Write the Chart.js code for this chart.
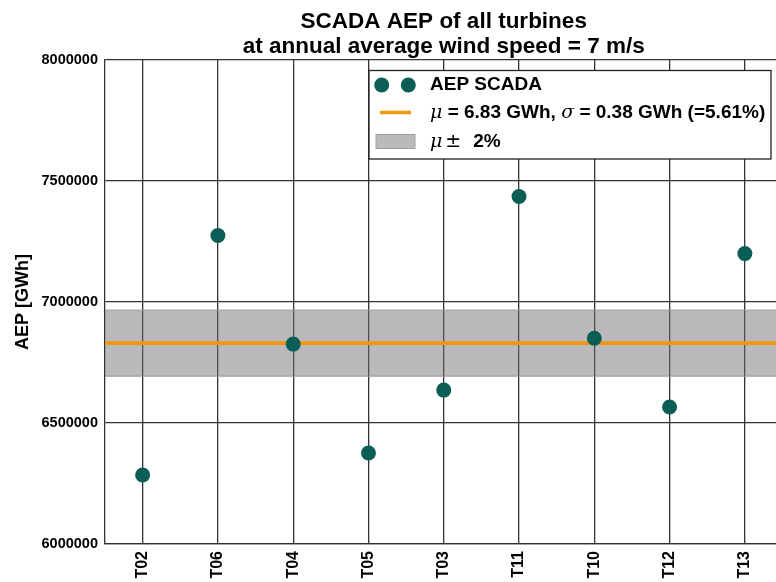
<!DOCTYPE html>
<html>
<head>
<meta charset="utf-8">
<script src="https://cdn.jsdelivr.net/npm/chart.js@4.4.1/dist/chart.umd.min.js"></script>
<style>
  html, body { margin: 0; padding: 0; background: #fff; overflow: hidden; }
  #wrap { width: 790px; height: 582px; }
</style>
</head>
<body>
<div id="wrap"><canvas id="aepChart" width="790" height="582"></canvas></div>
<script>
// turbines in plotting order and their SCADA AEP (GWh scaled to Wh units on the axis)
const turbines = ['T02', 'T06', 'T04', 'T05', 'T03', 'T11', 'T10', 'T12', 'T13'];
const aepScada = [6285000, 7275000, 6826000, 6376000, 6636000, 7436000, 6850000, 6566000, 7200000];
const yTicks = [6000000, 6500000, 7000000, 7500000, 8000000];

const meanAEP = 6830000;   // mu
const sigmaAEP = 380000;   // sigma
const sigmaPct = 5.61;
const bandPct = 2;

const COL_DOT = '#0b5e55';
const COL_MEAN = '#f0960f';
const COL_BAND = 'rgba(110,110,118,0.48)';
const COL_GRID = '#333333';
const FONT = "'Liberation Sans', Arial, sans-serif";

const xMin = -0.5;
const xMax = turbines.length - 0.5;
const bandHi = meanAEP * (1 + bandPct / 100);
const bandLo = meanAEP * (1 - bandPct / 100);

const points = aepScada.map((v, i) => ({ x: i, y: v }));

// legend box drawn inside the plot, top right
const legendBox = {
    id: 'legendBox',
    afterDraw(chart) {
        const ctx = chart.ctx;
        const x0 = 369, y0 = 70.5, x1 = 771, y1 = 159;
        ctx.save();
        ctx.fillStyle = '#fff';
        ctx.fillRect(x0, y0, x1 - x0, y1 - y0);
        ctx.strokeStyle = '#222';
        ctx.lineWidth = 1.3;
        ctx.strokeRect(x0, y0, x1 - x0, y1 - y0);

        // markers
        ctx.fillStyle = COL_DOT;
        [381.7, 408.3].forEach(cx => {
            ctx.beginPath();
            ctx.arc(cx, 85, 7.5, 0, Math.PI * 2);
            ctx.fill();
        });
        ctx.strokeStyle = COL_MEAN;
        ctx.lineWidth = 3.5;
        ctx.beginPath();
        ctx.moveTo(380, 112.5);
        ctx.lineTo(411, 112.5);
        ctx.stroke();
        ctx.fillStyle = COL_BAND;
        ctx.fillRect(376, 134.5, 39, 14);
        ctx.strokeStyle = '#a0a0a0';
        ctx.lineWidth = 1;
        ctx.strokeRect(376, 134.5, 39, 14);

        // texts
        const bold = 'bold 19px ' + FONT;
        const ital = 'italic 19px "DejaVu Serif", serif';
        const regl = '19px "DejaVu Sans", sans-serif';
        ctx.fillStyle = '#000';
        ctx.textBaseline = 'middle';
        ctx.textAlign = 'left';

        function runs(parts, x, y) {
            parts.forEach(([font, txt, gap]) => {
                x += gap || 0;
                ctx.font = font;
                ctx.fillText(txt, x, y);
                x += ctx.measureText(txt).width;
            });
        }
        runs([[bold, 'AEP SCADA']], 430, 85);
        runs([
            [ital, 'μ'],
            [bold, ' = ' + (meanAEP / 1e6).toFixed(2) + ' GWh, '],
            [ital, 'σ'],
            [bold, ' = ' + (sigmaAEP / 1e6).toFixed(2) + ' GWh (=' + sigmaPct.toFixed(2) + '%)']
        ], 430, 113);
        runs([
            [ital, 'μ'],
            [regl, '±', 3],
            [bold, bandPct + '%', 12]
        ], 430, 142);
        ctx.restore();
    }
};

new Chart(document.getElementById('aepChart'), {
    type: 'scatter',
    data: {
        datasets: [
            {
                label: 'band hi',
                data: [{ x: xMin, y: bandHi }, { x: xMax, y: bandHi }],
                showLine: true,
                borderColor: '#a0a0a0',
                borderWidth: 1,
                pointRadius: 0,
                backgroundColor: COL_BAND,
                fill: '+1',
                order: 3
            },
            {
                label: 'band lo',
                data: [{ x: xMin, y: bandLo }, { x: xMax, y: bandLo }],
                showLine: true,
                borderColor: '#a0a0a0',
                borderWidth: 1,
                pointRadius: 0,
                fill: false,
                order: 3
            },
            {
                label: 'mean',
                data: [{ x: xMin, y: meanAEP }, { x: xMax, y: meanAEP }],
                showLine: true,
                borderColor: COL_MEAN,
                borderWidth: 3.8,
                pointRadius: 0,
                fill: false,
                order: 2
            },
            {
                label: 'AEP SCADA',
                data: points,
                pointRadius: 7.5,
                pointHoverRadius: 7.5,
                pointBackgroundColor: COL_DOT,
                pointBorderWidth: 0,
                order: 1
            }
        ]
    },
    options: {
        responsive: false,
        animation: false,
        layout: { padding: { left: 0, right: 5.5, top: 0, bottom: 0 } },
        plugins: {
            legend: { display: false },
            tooltip: { enabled: false },
            title: {
                display: true,
                fullSize: false,
                text: ['SCADA AEP of all turbines', 'at annual average wind speed = 7 m/s'],
                color: '#000',
                font: { family: FONT, size: 22.5, weight: 'bold', lineHeight: 1.08 },
                padding: { top: 10, bottom: 1.4 }
            }
        },
        scales: {
            x: {
                type: 'linear',
                min: xMin,
                max: xMax,
                afterBuildTicks: (scale) => {
                    scale.ticks = turbines.map((_, i) => ({ value: i }));
                },
                afterFit: (scale) => {
                    scale.height = 38;
                    scale.paddingLeft = 0;
                    scale.paddingRight = 0;
                },
                grid: { color: COL_GRID, lineWidth: 1.3, drawTicks: false },
                border: { color: COL_GRID, width: 1.3 },
                ticks: {
                    color: '#000',
                    font: { family: FONT, size: 16, weight: 'bold' },
                    minRotation: 90,
                    maxRotation: 90,
                    padding: 7,
                    autoSkip: false,
                    callback: (v) => turbines[v]
                }
            },
            y: {
                min: yTicks[0],
                max: yTicks[yTicks.length - 1],
                afterBuildTicks: (scale) => {
                    scale.ticks = yTicks.map(v => ({ value: v }));
                },
                afterFit: (scale) => {
                    scale.width = 105;
                    scale.paddingTop = 0;
                    scale.paddingBottom = 0;
                },
                grid: { color: COL_GRID, lineWidth: 1.3, drawTicks: false },
                border: { color: COL_GRID, width: 1.3 },
                title: {
                    display: true,
                    text: 'AEP [GWh]',
                    color: '#000',
                    font: { family: FONT, size: 18, weight: 'bold', lineHeight: 1.2 },
                    padding: { top: 12, bottom: 0 }
                },
                ticks: {
                    color: '#000',
                    font: { family: FONT, size: 14.5, weight: 'bold' },
                    padding: 7,
                    callback: (v) => String(v)
                }
            }
        }
    },
    plugins: [legendBox]
});
</script>
</body>
</html>
